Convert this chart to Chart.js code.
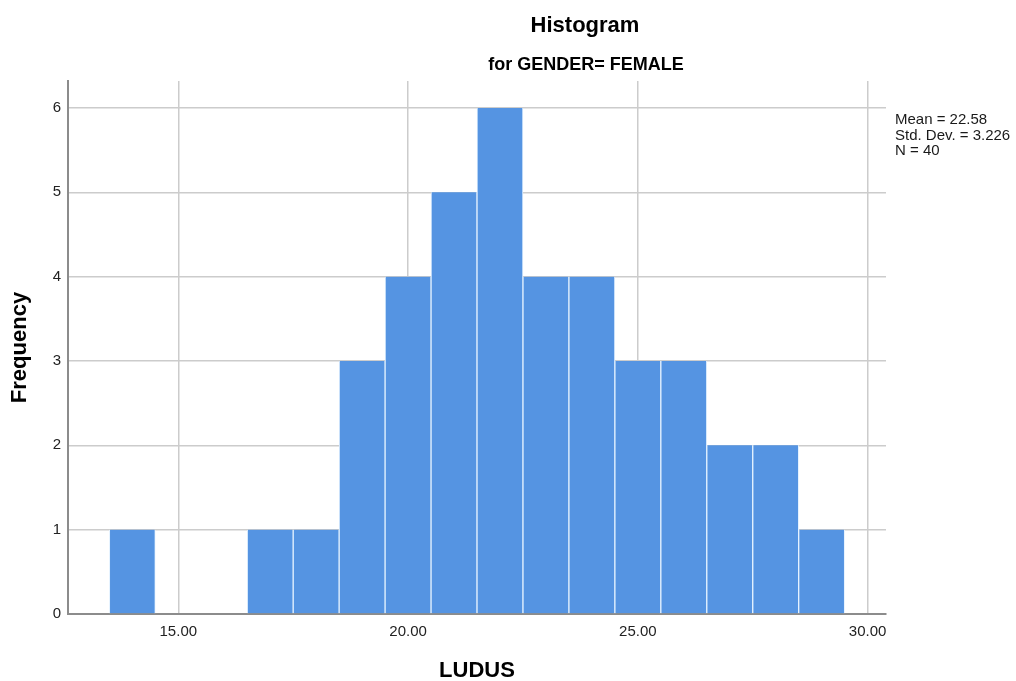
<!DOCTYPE html>
<html>
<head>
<meta charset="utf-8">
<script src="https://cdn.jsdelivr.net/npm/chart.js@4/dist/chart.umd.min.js"></script>
<style>
  html, body { margin: 0; padding: 0; background: #ffffff; }
  #wrap { position: relative; width: 1016px; height: 681px; }
</style>
</head>
<body>
<div id="wrap"><canvas id="c" width="1016" height="681"></canvas></div>
<script>
// ---- data ----
const binCenters = [14, 15, 16, 17, 18, 19, 20, 21, 22, 23, 24, 25, 26, 27, 28, 29];
const frequencies = [1, 0, 0, 1, 1, 3, 4, 5, 6, 4, 4, 3, 3, 2, 2, 1];
const xTickValues = [15, 20, 25, 30];
const yTickValues = [0, 1, 2, 3, 4, 5, 6];
const titleText = "Histogram";
const subtitleText = "for GENDER= FEMALE";
const xAxisTitle = "LUDUS";
const yAxisTitle = "Frequency";
const statsLines = ["Mean = 22.58", "Std. Dev. = 3.226", "N = 40"];

const FONT = "Arial, 'Liberation Sans', sans-serif";

const textPlugin = {
  id: 'spssText',
  afterDraw(chart) {
    const ctx = chart.ctx;
    const area = chart.chartArea;
    ctx.save();
    ctx.fillStyle = '#000';
    ctx.textAlign = 'center';
    ctx.textBaseline = 'middle';
    ctx.font = 'bold 22px ' + FONT;
    ctx.fillText(titleText, 585, 26);
    ctx.font = 'bold 18px ' + FONT;
    ctx.fillText(subtitleText, 586, 65);
    // axis titles
    ctx.font = 'bold 22px ' + FONT;
    ctx.fillText(xAxisTitle, (area.left + area.right) / 2, 671);
    ctx.save();
    ctx.translate(20, (area.top + area.bottom) / 2);
    ctx.rotate(-Math.PI / 2);
    ctx.fillText(yAxisTitle, 0, 0);
    ctx.restore();
    // stats
    ctx.textAlign = 'left';
    ctx.textBaseline = 'alphabetic';
    ctx.font = '15px ' + FONT;
    ctx.fillStyle = '#1a1a1a';
    statsLines.forEach((s, i) => ctx.fillText(s, 895, 124 + i * 15.5));
    ctx.restore();
  }
};

new Chart(document.getElementById('c'), {
  type: 'bar',
  data: {
    datasets: [{
      data: binCenters.map((x, i) => ({ x: x, y: frequencies[i] })),
      backgroundColor: '#5594e2',
      borderColor: '#e6f3ff',
      borderWidth: { left: 1, right: 1, top: 0, bottom: 0 },
      borderSkipped: 'start',
      categoryPercentage: 1.0,
      barPercentage: 1.0
    }]
  },
  options: {
    responsive: false,
    animation: false,
    devicePixelRatio: 1,
    layout: { padding: { left: 0, top: 81, right: 130, bottom: 0 } },
    plugins: { legend: { display: false }, tooltip: { enabled: false }, title: { display: false } },
    scales: {
      x: {
        type: 'linear',
        min: 12.6,
        max: 30.4,
        offset: false,
        afterBuildTicks: (scale) => { scale.ticks = xTickValues.map(v => ({ value: v })); },
        afterFit: (scale) => { scale.height = 67; },
        ticks: {
          callback: (v) => Number(v).toFixed(2),
          font: { family: FONT, size: 15 },
          color: '#222',
          padding: 9,
          maxRotation: 0,
          autoSkip: false
        },
        grid: { color: '#cccccc', lineWidth: 1.5, drawTicks: false, offset: false },
        border: { color: '#8c8c8c', width: 2 }
      },
      y: {
        min: 0,
        max: 6.32,
        afterBuildTicks: (scale) => { scale.ticks = yTickValues.map(v => ({ value: v })); },
        afterFit: (scale) => { scale.width = 68; },
        ticks: {
          font: { family: FONT, size: 15 },
          color: '#222',
          padding: 7,
          autoSkip: false
        },
        grid: { color: '#cccccc', lineWidth: 1.5, drawTicks: false },
        border: { color: '#8c8c8c', width: 2 }
      }
    }
  },
  plugins: [textPlugin]
});
</script>
</body>
</html>
